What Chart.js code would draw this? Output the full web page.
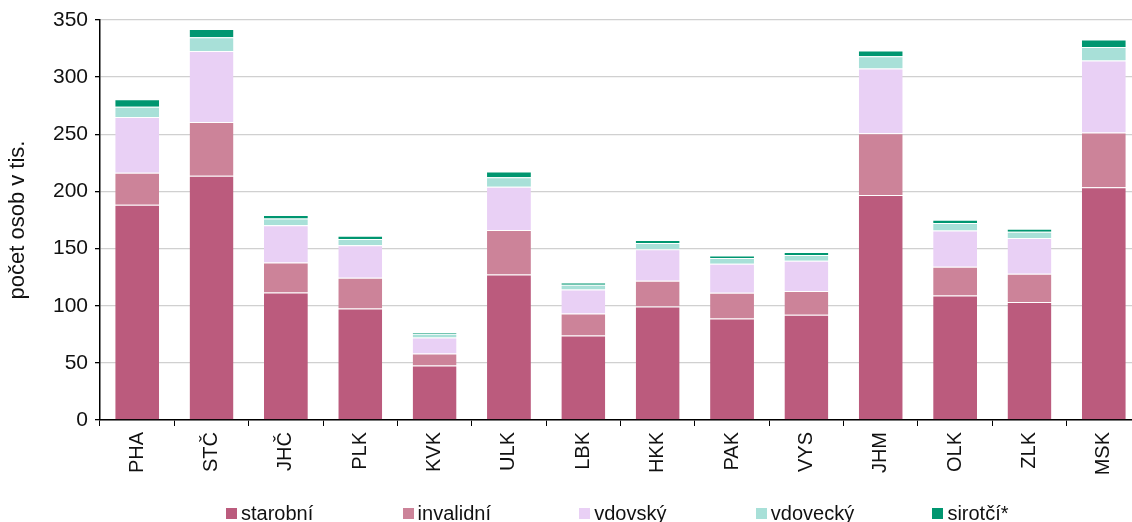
<!DOCTYPE html>
<html lang="cs">
<head>
<meta charset="utf-8">
<script src="https://cdn.jsdelivr.net/npm/chart.js@4/dist/chart.umd.min.js"></script>
<style>
  html, body { margin: 0; padding: 0; overflow: hidden; background: #fff; }
  #wrap { position: relative; width: 1141px; height: 522px; }
  #legend { position: absolute; left: 0; top: 0; width: 1141px; height: 522px; pointer-events: none;
            font-family: 'Liberation Sans', Arial, sans-serif; font-size: 20px; color: #111; }
  .box { position: absolute; width: 11px; height: 11px; }
  .txt { position: absolute; line-height: 20px; white-space: nowrap; }
</style>
</head>
<body>
<div id="wrap">
  <canvas id="chart" width="1141" height="522"></canvas>
  <div id="legend"></div>
</div>
<script>
// regions (kraje)
const categories = ['PHA', 'STČ', 'JHČ', 'PLK', 'KVK', 'ULK', 'LBK', 'HKK', 'PAK', 'VYS', 'JHM', 'OLK', 'ZLK', 'MSK'];

// počet osob v tis., by pension type
const starobni = [188.4, 213.8, 111.6, 97.6, 47.6, 127.4, 73.9, 99.3, 88.8, 92.0, 196.9, 108.9, 103.2, 203.6];
const invalidni = [28.0, 47.0, 26.3, 26.9, 10.5, 38.8, 19.3, 22.5, 22.5, 20.8, 54.0, 25.2, 24.8, 47.9];
const vdovsky = [48.7, 62.1, 32.4, 28.3, 14.0, 38.0, 21.0, 27.5, 25.4, 26.6, 56.7, 31.8, 31.3, 63.1];
const vdovecky = [9.1, 12.0, 6.1, 5.6, 3.3, 8.2, 4.1, 5.6, 5.0, 4.9, 10.6, 6.5, 5.5, 11.7];
const sirotci = [6.4, 7.2, 3.0, 2.9, 1.5, 5.0, 2.0, 2.6, 2.3, 2.7, 5.2, 2.9, 2.6, 6.7];

const seriesNames = ['starobní', 'invalidní', 'vdovský', 'vdovecký', 'sirotčí*'];
const seriesColors = ['#BB5B7D', '#CC8399', '#E9D0F5', '#A8E0D8', '#009670'];
const seriesData = [starobni, invalidni, vdovsky, vdovecky, sirotci];

const yTicks = [0, 50, 100, 150, 200, 250, 300, 350];

const font = "'Liberation Sans', Arial, sans-serif";

const ctx = document.getElementById('chart').getContext('2d');
const chart = new Chart(ctx, {
  type: 'bar',
  data: {
    labels: categories,
    datasets: seriesNames.map((name, i) => ({
      label: name,
      data: seriesData[i],
      backgroundColor: seriesColors[i],
      borderColor: 'rgba(255,255,255,0.25)',
      borderWidth: { top: 1, left: 0, right: 0, bottom: 0 },
      borderSkipped: false,
      categoryPercentage: 1.0,
      barPercentage: 0.59,
    })),
  },
  options: {
    responsive: false,
    animation: false,
    layout: { padding: { top: 20, right: 0, bottom: 42, left: 0 } },
    plugins: {
      legend: { display: false },
      tooltip: { enabled: false },
    },
    scales: {
      x: {
        stacked: true,
        afterFit: s => { s.height = 60; },
        grid: { offset: true, drawOnChartArea: false, color: '#000', tickLength: 6, lineWidth: 1 },
        border: { color: '#000', width: 1.5 },
        ticks: {
          minRotation: 90, maxRotation: 90, padding: 6,
          color: '#111', font: { family: font, size: 20 },
        },
      },
      y: {
        stacked: true,
        min: 0,
        max: 350,
        afterFit: s => { s.width = 100; },
        afterBuildTicks: s => { s.ticks = yTicks.map(v => ({ value: v })); },
        grid: { color: '#d0d0d0', lineWidth: 1.3, tickColor: '#000', tickLength: 5 },
        border: { color: '#000', width: 1.5 },
        ticks: { padding: 7, color: '#111', font: { family: font, size: 21 } },
        title: {
          display: true, text: 'počet osob v tis.', color: '#111',
          font: { family: font, size: 22 }, padding: { top: 5, bottom: 0 },
        },
      },
    },
  },
});

// legend with equal-width columns, built from the series arrays
const legend = document.getElementById('legend');
seriesNames.forEach((name, i) => {
  const left = 226 + i * 176.6;
  const box = document.createElement('div');
  box.className = 'box';
  box.style.left = left + 'px';
  box.style.top = '508px';
  box.style.background = seriesColors[i];
  legend.appendChild(box);
  const txt = document.createElement('div');
  txt.className = 'txt';
  txt.style.left = (left + 15) + 'px';
  txt.style.top = '503px';
  txt.textContent = name;
  legend.appendChild(txt);
});
</script>
</body>
</html>
